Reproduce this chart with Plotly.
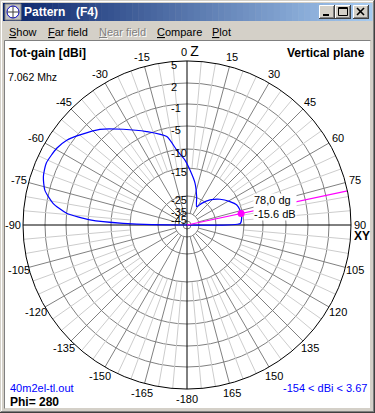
import numpy as np
import plotly.graph_objects as go

# ---------------- data ----------------
elev_deg = [-90, -88.5, -87, -84.4, -80.8, -76.2, -71.4, -66.3, -59.5, -54.8, -49.9,
            -42.3, -33.6, -23.4, -12.9, -7.8, -1.8, 3.1, 10.8, 18.9, 27.9,
            34.1, 42.6, 52.1, 61.5, 68.1, 74.2, 78.0, 83.0, 88.4, 90]
gain_dbi = [-154, -13.2, -5.4, -1.0, 1.1, 2.6, 3.3, 3.6, 3.25, 2.7, 1.7,
            0.2, -2.1, -4.5, -6.8, -10.1, -12.9, -15.7, -20.1, -24.7, -29.9,
            -26.7, -23.2, -20.4, -17.9, -16.2, -15.7, -15.6, -15.7, -16.3, -154]
cursor_deg = 78.0
cursor_dbi = -15.6
ring_dbi = [5, 2, -1, -5, -10, -15, -25, -35, -45]
angle_ticks = list(range(-165, 181, 15))
gain_min, gain_max = -154, 3.67
freq_label = "7.062 Mhz"
file_label = "40m2el-tl.out"
phi_label = "Phi= 280"
quantity_label = "Tot-gain [dBi]"
plane_label = "Vertical plane"
menu_items = ["Show", "Far field", "Near field", "Compare", "Plot"]
window_title = ["Pattern", "(F4)"]

# ---------------- geometry / style ----------------
W, H = 375, 413
CX, CY, R = 187, 225, 164
RING_PX = [164, 142, 121, 99, 76, 57, 29, 12, 4]   # radial (log-like) scale of the rings
LABEL_R_PX = 174
FONT = "Liberation Sans"
DARK = "#808080"
LIGHT = "#cccccc"
FACE = "#d4d0c8"
BLUE = "#0000ff"
MAG = "#ff00ff"


def to_r(db):
    return np.interp(db, [gain_min] + ring_dbi[::-1], [0] + RING_PX[::-1]) / R


def px(x):
    return x / W


def py(y):
    return 1 - y / H


# ---------------- polar traces ----------------
fig = go.Figure()

dark_sp = [a for a in range(-165, 181, 15) if a % 90 != 0]
light_sp = [a for a in range(-175, 181, 5) if a % 15 != 0]


def spokes(angles, r0):
    th, rr = [], []
    for a in angles:
        th += [a, a, None]
        rr += [r0, 1, None]
    return th, rr


th, rr = spokes(light_sp, to_r(-15))
fig.add_trace(go.Scatterpolar(theta=th, r=rr, mode="lines", line=dict(color=LIGHT, width=1),
                              hoverinfo="skip", showlegend=False))
th, rr = spokes(dark_sp, to_r(-35))
fig.add_trace(go.Scatterpolar(theta=th, r=rr, mode="lines", line=dict(color=DARK, width=1),
                              hoverinfo="skip", showlegend=False))
fig.add_trace(go.Scatterpolar(theta=[0, 180, None, -90, 90], r=[1, 1, None, 1, 1], mode="lines",
                              line=dict(color="black", width=1), hoverinfo="skip", showlegend=False))

fig.add_trace(go.Scatterpolar(theta=elev_deg, r=to_r(np.array(gain_dbi)), mode="lines",
                              line=dict(color=BLUE, width=1.2, shape="spline", smoothing=0.6),
                              hoverinfo="skip", showlegend=False))
fig.add_trace(go.Scatterpolar(theta=[cursor_deg, cursor_deg], r=[0, 1], mode="lines",
                              line=dict(color=MAG, width=1.2), hoverinfo="skip", showlegend=False))
fig.add_trace(go.Scatterpolar(theta=[cursor_deg], r=[to_r(cursor_dbi)], mode="markers",
                              marker=dict(color=MAG, size=7), hoverinfo="skip", showlegend=False))

# invisible trace to create an overlay cartesian frame in the same units (1 unit = R px)
fig.add_trace(go.Scatter(x=[0], y=[0], mode="markers", marker=dict(opacity=0), hoverinfo="skip",
                         showlegend=False))

# ---------------- annotations ----------------
ann = []

# angular tick labels
for t in angle_ticks:
    if t == 90:
        continue
    if t == 180:
        s = "-180"
    elif t == 0:
        s = "0 <span style='font-size:14px'>Z</span>"
    else:
        s = str(t)
    rl = LABEL_R_PX / R
    ann.append(dict(xref="x", yref="y", x=rl * np.sin(np.radians(t)), y=rl * np.cos(np.radians(t)),
                    text=s, showarrow=False, xanchor="center", yanchor="middle",
                    xshift=3 if t == 0 else 0, borderpad=0,
                    font=dict(family=FONT, size=11, color="black")))

# radial ring labels
for i, (db, rp) in enumerate(zip(ring_dbi, RING_PX)):
    nxt = RING_PX[i + 1] if i + 1 < len(RING_PX) else 0
    shift = -4 if rp - nxt > 12 else 1
    ann.append(dict(xref="x", yref="y", x=-17 / R, y=to_r(db), text=str(db), showarrow=False,
                    xanchor="left", yanchor="middle", yshift=shift, borderpad=0,
                    font=dict(family=FONT, size=11, color="black")))

# 90 / XY label
s90, c90 = np.sin(np.radians(90)), np.cos(np.radians(90))
ann.append(dict(xref="x", yref="y", x=s90, y=c90, text="90", showarrow=False, xanchor="left",
                yanchor="middle", xshift=2, yshift=0, borderpad=0,
                font=dict(family=FONT, size=11, color="black")))
ann.append(dict(xref="x", yref="y", x=s90, y=c90, text="<b>XY</b>", showarrow=False, xanchor="left",
                yanchor="middle", xshift=2, yshift=-11, borderpad=0,
                font=dict(family=FONT, size=12, color="black")))

# cursor readout
rc = to_r(cursor_dbi)
ann.append(dict(xref="x", yref="y", x=rc * np.sin(np.radians(cursor_deg)), y=rc * np.cos(np.radians(cursor_deg)),
                text=f"{cursor_deg:.1f}".replace(".", ",") + " dg<br>" + f"{cursor_dbi:.1f} dB",
                showarrow=False, xanchor="left", yanchor="middle", xshift=12, yshift=7, align="left",
                bgcolor="white", borderpad=0, font=dict(family=FONT, size=11, color="black")))


def txt(x, y, s, size=11, color="black", anchor="left"):
    return dict(xref="paper", yref="paper", x=px(x), y=py(y), text=s, showarrow=False, xanchor=anchor,
                yanchor="middle", borderpad=0, font=dict(family=FONT, size=size, color=color))


ann.append(txt(8, 53, "<b>" + quantity_label + "</b>", 12))
ann.append(txt(366, 53, "<b>" + plane_label + "</b>", 12, anchor="right"))
ann.append(txt(7, 77, freq_label, 10.5))
ann.append(txt(9, 387.5, file_label, 11, BLUE))
ann.append(txt(9, 401.5, "<b>" + phi_label + "</b>", 12))
ann.append(txt(368, 387.5, f"{gain_min} < dBi < {gain_max}", 11, BLUE, anchor="right"))

# window title and menu
ann.append(txt(23, 12.5, "<b>" + window_title[0] + "</b>", 12, "white"))
ann.append(txt(75, 12.5, "<b>" + window_title[1] + "</b>", 12, "white"))
menu_x = [8, 47, 98, 156, 211]
for name, mx in zip(menu_items, menu_x):
    lab = "<u>" + name[0] + "</u>" + name[1:]
    if name == "Near field":
        ann.append(txt(mx + 1, 33, lab, 11, "white"))
        ann.append(txt(mx, 32, lab, 11, "#808080"))
    else:
        ann.append(txt(mx, 32, lab, 11, "black"))

# ---------------- window chrome shapes ----------------
shapes = []


def rect(x0, y0, x1, y1, fill=None, line=None, lw=1):
    shapes.append(dict(type="rect", xref="paper", yref="paper", x0=px(x0), x1=px(x1), y0=py(y0), y1=py(y1),
                       fillcolor=fill or "rgba(0,0,0,0)",
                       line=dict(color=line or "rgba(0,0,0,0)", width=lw if line else 0), layer="below"))


def seg(x0, y0, x1, y1, color, lw=1):
    shapes.append(dict(type="line", xref="paper", yref="paper", x0=px(x0), x1=px(x1), y0=py(y0), y1=py(y1),
                       line=dict(color=color, width=lw), layer="below"))


# outer frame
seg(1.5, 1.5, 373, 1.5, "white")
seg(1.5, 1.5, 1.5, 411, "white")
seg(0, 412.5, 375, 412.5, "#404040")
seg(374.5, 0, 374.5, 413, "#404040")
seg(1, 411.5, 374, 411.5, DARK)
seg(373.5, 1, 373.5, 412, DARK)

# title bar gradient
c0 = np.array([10, 36, 106])
c1 = np.array([166, 202, 240])
xa, xb = 3, 372
n = 60
for i in range(n):
    f = i / (n - 1)
    c = (c0 + (c1 - c0) * f).astype(int)
    x0 = xa + (xb - xa) * i / n
    x1 = xa + (xb - xa) * (i + 1) / n + 0.5
    rect(x0, 3, x1, 21, fill=f"rgb({c[0]},{c[1]},{c[2]})")

# icon
rect(5, 4, 21, 20, fill="#c0c0c0", line="#808080")
shapes.append(dict(type="circle", xref="paper", yref="paper", x0=px(7), x1=px(19), y0=py(6), y1=py(18),
                   line=dict(color="#0000c0", width=1), fillcolor="white", layer="below"))
seg(13, 6, 13, 18, "#404040")
seg(7, 12, 19, 12, "#404040")

# caption buttons
for bx0, bx1 in [(319, 335), (335, 351), (353, 369)]:
    rect(bx0, 5, bx1, 19, fill=FACE)
    seg(bx0 + 0.5, 5.5, bx1 - 1, 5.5, "white")
    seg(bx0 + 0.5, 5.5, bx0 + 0.5, 18.5, "white")
    seg(bx0, 18.5, bx1, 18.5, "#404040")
    seg(bx1 - 0.5, 5, bx1 - 0.5, 19, "#404040")
    seg(bx0 + 1, 17.5, bx1 - 1, 17.5, DARK)
    seg(bx1 - 1.5, 6, bx1 - 1.5, 18, DARK)
rect(323, 14, 329, 16, fill="black")
rect(338.5, 7.5, 347.5, 15.5, line="black")
seg(338.5, 8.5, 347.5, 8.5, "black")
seg(357, 8, 364, 15, "black", 1.6)
seg(364, 8, 357, 15, "black", 1.6)

# client area
rect(5, 41, 370, 408, fill="white")
seg(4.5, 40.5, 370.5, 40.5, DARK)
seg(4.5, 40.5, 4.5, 408.5, DARK)

fig.update_layout(
    width=W, height=H, autosize=False,
    margin=dict(l=0, r=0, t=0, b=0, pad=0),
    paper_bgcolor=FACE, plot_bgcolor="rgba(0,0,0,0)",
    showlegend=False,
    polar=dict(
        domain=dict(x=[(CX - R) / W, (CX + R) / W], y=[1 - (CY + R) / H, 1 - (CY - R) / H]),
        bgcolor="rgba(0,0,0,0)",
        radialaxis=dict(range=[0, 1], autorange=False, tickmode="array",
                        tickvals=list(to_r(np.array(ring_dbi[1:]))), showticklabels=False, ticks="",
                        showline=False, gridcolor=DARK, gridwidth=1),
        angularaxis=dict(rotation=90, direction="clockwise", showgrid=False, showticklabels=False,
                         ticks="", showline=True, linecolor="black", linewidth=1),
    ),
    # overlay frame covering the whole figure, in units of the polar radius
    xaxis=dict(domain=[0, 1], range=[-CX / R, (W - CX) / R], visible=False, fixedrange=True),
    yaxis=dict(domain=[0, 1], range=[(CY - H) / R, CY / R], visible=False, fixedrange=True),
    annotations=ann,
    shapes=shapes,
)

fig.write_html("out.html", config={"displayModeBar": False},
               post_script="document.body.style.margin='0';document.body.style.overflow='hidden';"
                           "document.documentElement.style.overflow='hidden';")
